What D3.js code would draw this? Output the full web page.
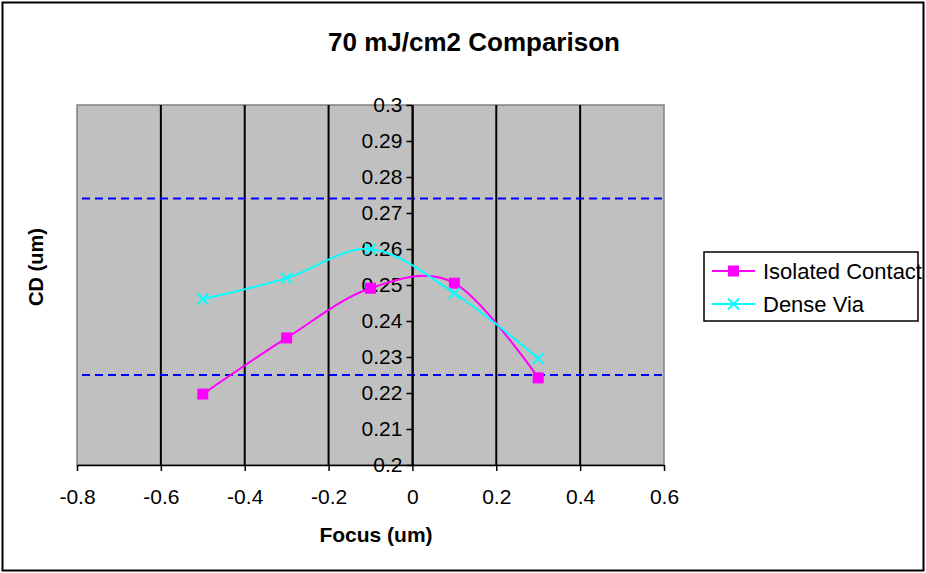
<!DOCTYPE html>
<html>
<head>
<meta charset="utf-8">
<script src="https://cdn.jsdelivr.net/npm/d3@7"></script>
<style>
  body { margin: 0; background: #fff; }
  svg { display: block; }
  text { font-family: "Liberation Sans", Arial, sans-serif; }
</style>
</head>
<body>
<div id="chart"></div>
<script>
// data
var focus = [-0.5, -0.3, -0.1, 0.1, 0.3];
var isolatedContact = [0.2197, 0.2353, 0.2491, 0.2505, 0.2242];
var denseVia = [0.2461, 0.2519, 0.2600, 0.2477, 0.2296];
var specLimits = [0.274, 0.225];
var seriesNames = ["Isolated Contact", "Dense Via"];
var xTicks = [-0.8, -0.6, -0.4, -0.2, 0, 0.2, 0.4, 0.6];
var yTicks = [0.2, 0.21, 0.22, 0.23, 0.24, 0.25, 0.26, 0.27, 0.28, 0.29, 0.3];

var width = 926, height = 573;
var plot = { left: 77, right: 664, top: 105, bottom: 465 };

var svg = d3.select("#chart")
            .append("svg")
            .attr("width", width)
            .attr("height", height);

// outer chart border
svg.append("rect")
    .attr("x", 2.5).attr("y", 2.5)
    .attr("width", 921).attr("height", 568)
    .attr("fill", "#fff")
    .attr("stroke", "#000")
    .attr("stroke-width", 2);

var x = d3.scaleLinear().domain([-0.8, 0.6]).range([plot.left, plot.right]);
var y = d3.scaleLinear().domain([0.2, 0.3]).range([plot.bottom, plot.top]);

// plot area
svg.append("rect")
    .attr("x", plot.left).attr("y", plot.top)
    .attr("width", plot.right - plot.left)
    .attr("height", plot.bottom - plot.top)
    .attr("fill", "#c0c0c0")
    .attr("stroke", "#808080")
    .attr("stroke-width", 1.5);

// vertical gridlines
svg.append("g")
    .selectAll("line")
    .data(xTicks.slice(1, -1))
    .enter()
    .append("line")
    .attr("x1", function(d) { return x(d); })
    .attr("x2", function(d) { return x(d); })
    .attr("y1", plot.top)
    .attr("y2", plot.bottom)
    .attr("stroke", "#000")
    .attr("stroke-width", 2);

// spec limit lines
svg.append("g")
    .selectAll("line")
    .data(specLimits)
    .enter()
    .append("line")
    .attr("x1", x(-0.8) + 5)
    .attr("x2", x(0.6))
    .attr("y1", function(d) { return y(d); })
    .attr("y2", function(d) { return y(d); })
    .attr("stroke", "#0000ff")
    .attr("stroke-width", 2)
    .attr("stroke-dasharray", "8,5");

// x axis
var xAxis = svg.append("g")
    .attr("transform", "translate(0," + plot.bottom + ")")
    .call(d3.axisBottom(x).tickValues(xTicks).tickFormat(String).tickSize(6).tickSizeOuter(0).tickPadding(18));
xAxis.select(".domain").attr("stroke", "#000").attr("stroke-width", 1.5);
xAxis.selectAll(".tick line").attr("stroke", "#000").attr("stroke-width", 1.5);
xAxis.selectAll("text")
    .attr("font-size", "21px")
    .attr("font-family", "Liberation Sans, Arial, sans-serif")
    .attr("fill", "#000");

// y axis sits at focus = 0
var yAxis = svg.append("g")
    .attr("transform", "translate(" + x(0) + ",0)")
    .call(d3.axisLeft(y).tickValues(yTicks).tickFormat(String).tickSize(6).tickSizeOuter(0).tickPadding(4));
yAxis.select(".domain").attr("stroke", "#000").attr("stroke-width", 1.5);
yAxis.selectAll(".tick line").attr("stroke", "#000").attr("stroke-width", 1.5);
yAxis.selectAll("text")
    .attr("font-size", "21px")
    .attr("font-family", "Liberation Sans, Arial, sans-serif")
    .attr("fill", "#000");

// series lines (Excel style smoothing)
var line = d3.line()
    .x(function(d) { return x(d[0]); })
    .y(function(d) { return y(d[1]); })
    .curve(d3.curveCatmullRom.alpha(0));

var series = [
    { name: seriesNames[0], values: isolatedContact, color: "#ff00ff", marker: "square" },
    { name: seriesNames[1], values: denseVia, color: "#00ffff", marker: "x" }
];

function drawMarker(g, type, color, cx, cy) {
    if(type == "square") {
        g.append("rect")
            .attr("x", cx - 5.5).attr("y", cy - 5.5)
            .attr("width", 11).attr("height", 11)
            .attr("fill", color);
    } else {
        g.append("path")
            .attr("d", "M" + (cx - 5.5) + "," + (cy - 5.5) + "L" + (cx + 5.5) + "," + (cy + 5.5) +
                       "M" + (cx - 5.5) + "," + (cy + 5.5) + "L" + (cx + 5.5) + "," + (cy - 5.5))
            .attr("stroke", color)
            .attr("stroke-width", 2)
            .attr("fill", "none");
    }
}

series.forEach(function(s) {
    var pts = focus.map(function(f, i) { return [f, s.values[i]]; });
    var g = svg.append("g");
    g.append("path")
        .attr("d", line(pts))
        .attr("fill", "none")
        .attr("stroke", s.color)
        .attr("stroke-width", 2);
    pts.forEach(function(p) {
        drawMarker(g, s.marker, s.color, x(p[0]), y(p[1]));
    });
});

// titles
svg.append("text")
    .text("70 mJ/cm2 Comparison")
    .attr("x", 474)
    .attr("y", 51)
    .attr("text-anchor", "middle")
    .attr("font-size", "26px")
    .attr("font-weight", "bold");

svg.append("text")
    .text("Focus (um)")
    .attr("x", 376)
    .attr("y", 542)
    .attr("text-anchor", "middle")
    .attr("font-size", "21px")
    .attr("font-weight", "bold");

svg.append("text")
    .text("CD (um)")
    .attr("transform", "translate(43,267) rotate(-90)")
    .attr("text-anchor", "middle")
    .attr("font-size", "20px")
    .attr("font-weight", "bold");

// legend
var legend = svg.append("g");
series.forEach(function(s, i) {
    var ly = 271 + i * 33;
    legend.append("line")
        .attr("x1", 712).attr("x2", 755)
        .attr("y1", ly).attr("y2", ly)
        .attr("stroke", s.color)
        .attr("stroke-width", 2);
    drawMarker(legend, s.marker, s.color, 733.5, ly);
    legend.append("text")
        .text(s.name)
        .attr("x", 763)
        .attr("y", ly + 7.5)
        .attr("font-size", "22px")
        .attr("fill", "#000");
});
legend.append("rect")
    .attr("x", 704).attr("y", 252)
    .attr("width", 214).attr("height", 69)
    .attr("fill", "none")
    .attr("stroke", "#000")
    .attr("stroke-width", 1.5);
</script>
</body>
</html>
